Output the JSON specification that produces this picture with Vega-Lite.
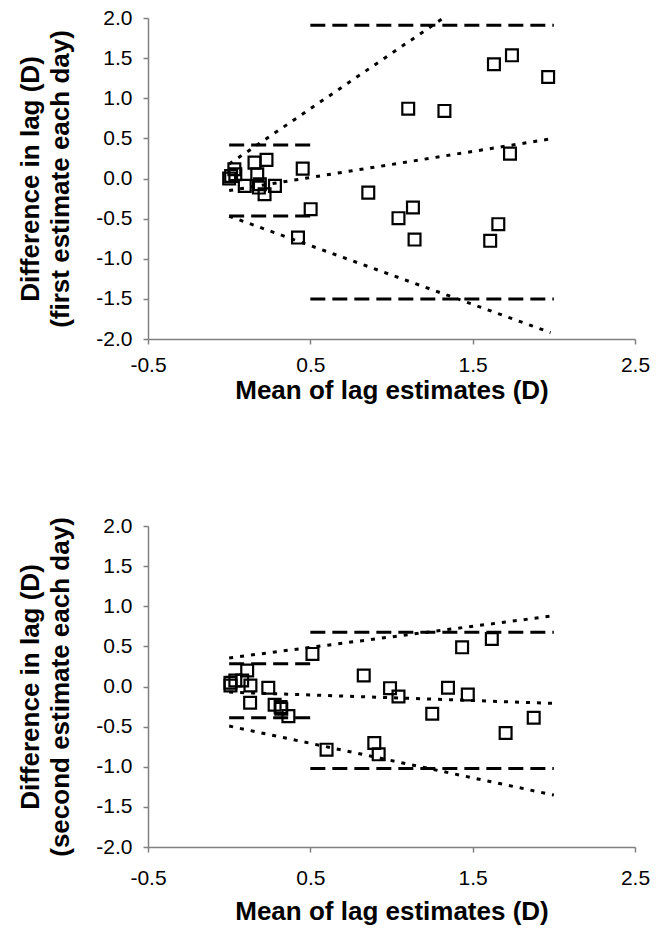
{
  "$schema": "https://vega.github.io/schema/vega-lite/v6.json",
  "background": "white",
  "padding": {"left": 17, "top": 7, "right": 8, "bottom": 3},
  "spacing": 112,
  "config": {
    "view": {"stroke": null},
    "axis": {
      "grid": false,
      "domainColor": "#808080",
      "tickColor": "#808080",
      "domainWidth": 1.5,
      "tickWidth": 1.5,
      "tickSize": 5,
      "labelFont": "Liberation Sans",
      "labelFontSize": 21,
      "labelColor": "black",
      "labelFlush": false,
      "labelExpr": "replace(format(datum.value, '.1f'), '\u2212', '-')",
      "titleFont": "Liberation Sans",
      "titleFontSize": 26,
      "titleFontWeight": "bold",
      "titleColor": "black"
    }
  },
  "datasets": {
    "pts1": [
      {"mean": 0.0, "diff": 0.0},
      {"mean": 0.012, "diff": 0.032},
      {"mean": 0.038, "diff": 0.053},
      {"mean": 0.032, "diff": 0.116},
      {"mean": 0.096, "diff": -0.092},
      {"mean": 0.156, "diff": 0.198},
      {"mean": 0.23, "diff": 0.232},
      {"mean": 0.173, "diff": 0.053},
      {"mean": 0.189, "diff": -0.071},
      {"mean": 0.218, "diff": -0.196},
      {"mean": 0.282, "diff": -0.092},
      {"mean": 0.183, "diff": -0.113},
      {"mean": 0.453, "diff": 0.123},
      {"mean": 0.502, "diff": -0.382},
      {"mean": 0.424, "diff": -0.736},
      {"mean": 0.857, "diff": -0.176},
      {"mean": 1.103, "diff": 0.87},
      {"mean": 1.326, "diff": 0.842},
      {"mean": 1.043, "diff": -0.494},
      {"mean": 1.132, "diff": -0.362},
      {"mean": 1.142, "diff": -0.761},
      {"mean": 1.631, "diff": 1.423},
      {"mean": 1.742, "diff": 1.535},
      {"mean": 1.965, "diff": 1.265},
      {"mean": 1.73, "diff": 0.31},
      {"mean": 1.658, "diff": -0.569},
      {"mean": 1.608, "diff": -0.777}
    ],
    "lines1": [
      {"seg": "A", "style": "dash", "mean": 0.0, "diff": 0.418},
      {"seg": "A", "style": "dash", "mean": 0.5, "diff": 0.418},
      {"seg": "B", "style": "dash", "mean": 0.0, "diff": -0.466},
      {"seg": "B", "style": "dash", "mean": 0.5, "diff": -0.466},
      {"seg": "C", "style": "dash", "mean": 0.5, "diff": 1.909},
      {"seg": "C", "style": "dash", "mean": 2.0, "diff": 1.909},
      {"seg": "D", "style": "dash", "mean": 0.5, "diff": -1.503},
      {"seg": "D", "style": "dash", "mean": 2.0, "diff": -1.503},
      {"seg": "E", "style": "dot", "mean": 0.0, "diff": -0.15},
      {"seg": "E", "style": "dot", "mean": 2.0, "diff": 0.5},
      {"seg": "F", "style": "dot", "mean": 0.0, "diff": 0.18},
      {"seg": "F", "style": "dot", "mean": 1.32, "diff": 2.0},
      {"seg": "G", "style": "dot", "mean": 0.0, "diff": -0.47},
      {"seg": "G", "style": "dot", "mean": 1.98, "diff": -1.92}
    ],
    "pts2": [
      {"mean": 0.513, "diff": 0.406},
      {"mean": 1.435, "diff": 0.488},
      {"mean": 1.618, "diff": 0.592},
      {"mean": 0.829, "diff": 0.137},
      {"mean": 0.991, "diff": -0.021},
      {"mean": 1.043, "diff": -0.124},
      {"mean": 1.348, "diff": -0.016},
      {"mean": 1.47, "diff": -0.099},
      {"mean": 1.251, "diff": -0.339},
      {"mean": 1.876, "diff": -0.389},
      {"mean": 1.703, "diff": -0.58},
      {"mean": 0.6, "diff": -0.787},
      {"mean": 0.894, "diff": -0.704},
      {"mean": 0.921, "diff": -0.845},
      {"mean": 0.241, "diff": -0.016},
      {"mean": 0.129, "diff": -0.202},
      {"mean": 0.28, "diff": -0.227},
      {"mean": 0.321, "diff": -0.277},
      {"mean": 0.365, "diff": -0.369},
      {"mean": 0.111, "diff": 0.199},
      {"mean": 0.008, "diff": 0.046},
      {"mean": 0.038, "diff": 0.075},
      {"mean": 0.08, "diff": 0.075},
      {"mean": 0.131, "diff": 0.012},
      {"mean": 0.008, "diff": 0.012},
      {"mean": 0.317, "diff": -0.257}
    ],
    "lines2": [
      {"seg": "A", "style": "dash", "mean": 0.0, "diff": 0.282},
      {"seg": "A", "style": "dash", "mean": 0.5, "diff": 0.282},
      {"seg": "B", "style": "dash", "mean": 0.0, "diff": -0.389},
      {"seg": "B", "style": "dash", "mean": 0.5, "diff": -0.389},
      {"seg": "C", "style": "dash", "mean": 0.5, "diff": 0.675},
      {"seg": "C", "style": "dash", "mean": 2.0, "diff": 0.675},
      {"seg": "D", "style": "dash", "mean": 0.5, "diff": -1.023},
      {"seg": "D", "style": "dash", "mean": 2.0, "diff": -1.023},
      {"seg": "E", "style": "dot", "mean": 0.0, "diff": -0.07},
      {"seg": "E", "style": "dot", "mean": 2.0, "diff": -0.21},
      {"seg": "F", "style": "dot", "mean": 0.0, "diff": 0.356},
      {"seg": "F", "style": "dot", "mean": 2.0, "diff": 0.882},
      {"seg": "G", "style": "dot", "mean": 0.0, "diff": -0.493},
      {"seg": "G", "style": "dot", "mean": 2.0, "diff": -1.353}
    ]
  },
  "vconcat": [
    {
      "width": 487,
      "height": 321,
      "encoding": {
        "x": {"field": "mean", "type": "quantitative", "scale": {"domain": [-0.5, 2.5], "nice": false, "zero": false},
              "axis": {"values": [-0.5, 0.5, 1.5, 2.5], "title": "Mean of lag estimates (D)", "labelPadding": 10, "titlePadding": 2}},
        "y": {"field": "diff", "type": "quantitative", "scale": {"domain": [-2, 2], "nice": false, "zero": false},
              "axis": {"values": [-2, -1.5, -1, -0.5, 0, 0.5, 1, 1.5, 2], "title": ["Difference in lag (D)", "(first estimate each day)"], "labelPadding": 11, "titlePadding": 22, "titleLineHeight": 30}}
      },
      "layer": [
        {"data": {"name": "lines1"}, "transform": [{"filter": "datum.style == 'dash'"}],
         "mark": {"type": "line", "color": "black", "strokeWidth": 3, "strokeDash": [15, 7]},
         "encoding": {"detail": {"field": "seg"}}},
        {"data": {"name": "lines1"}, "transform": [{"filter": "datum.style == 'dot'"}],
         "mark": {"type": "line", "color": "black", "strokeWidth": 3, "strokeDash": [4, 7], "clip": true},
         "encoding": {"detail": {"field": "seg"}}},
        {"data": {"name": "pts1"},
         "mark": {"type": "point", "shape": "square", "filled": false, "stroke": "black", "strokeWidth": 2.2, "size": 140, "opacity": 1},
         "encoding": {}}
      ]
    },
    {
      "width": 487,
      "height": 321,
      "encoding": {
        "x": {"field": "mean", "type": "quantitative", "scale": {"domain": [-0.5, 2.5], "nice": false, "zero": false},
              "axis": {"values": [-0.5, 0.5, 1.5, 2.5], "title": "Mean of lag estimates (D)", "labelPadding": 15, "titlePadding": 10}},
        "y": {"field": "diff", "type": "quantitative", "scale": {"domain": [-2, 2], "nice": false, "zero": false},
              "axis": {"values": [-2, -1.5, -1, -0.5, 0, 0.5, 1, 1.5, 2], "title": ["Difference in lag (D)", "(second estimate each day)"], "labelPadding": 11, "titlePadding": 22, "titleLineHeight": 30}}
      },
      "layer": [
        {"data": {"name": "lines2"}, "transform": [{"filter": "datum.style == 'dash'"}],
         "mark": {"type": "line", "color": "black", "strokeWidth": 3, "strokeDash": [15, 7]},
         "encoding": {"detail": {"field": "seg"}}},
        {"data": {"name": "lines2"}, "transform": [{"filter": "datum.style == 'dot'"}],
         "mark": {"type": "line", "color": "black", "strokeWidth": 3, "strokeDash": [4, 7], "clip": true},
         "encoding": {"detail": {"field": "seg"}}},
        {"data": {"name": "pts2"},
         "mark": {"type": "point", "shape": "square", "filled": false, "stroke": "black", "strokeWidth": 2.2, "size": 140, "opacity": 1},
         "encoding": {}}
      ]
    }
  ]
}
